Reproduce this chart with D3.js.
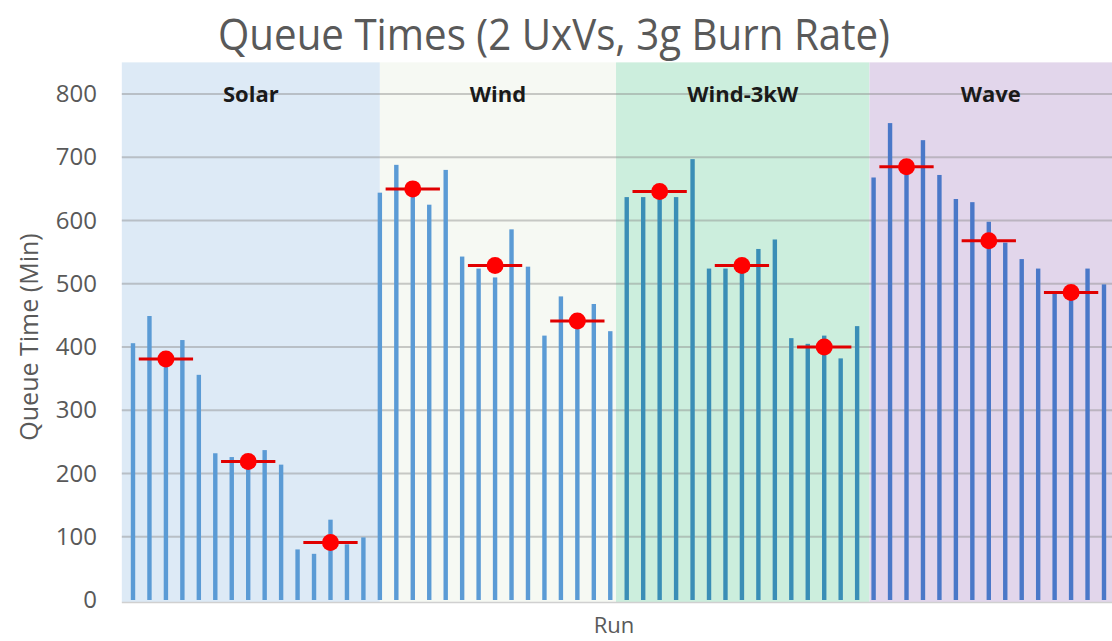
<!DOCTYPE html>
<html>
<head>
<meta charset="utf-8">
<script src="https://cdn.jsdelivr.net/npm/d3@7/dist/d3.min.js"></script>
<style>
  html, body { margin: 0; padding: 0; background: #ffffff; }
  svg { display: block; }
</style>
</head>
<body>
<svg id="chart" width="1112" height="641"></svg>
<script>
// ---------- data ----------
const groups = ["Solar", "Wind", "Wind-3kW", "Wave"];
const yTicks = [0, 100, 200, 300, 400, 500, 600, 700, 800];

// queue time per run (15 runs per source, 3 sub-sets of 5)
const solarRuns = [406, 449, 375, 411, 356, 232, 226, 215, 237, 214, 80, 73, 127, 88, 99];
const windRuns  = [644, 688, 640, 625, 680, 543, 524, 510, 586, 527, 418, 480, 435, 468, 425];
const wind3Runs = [637, 637, 637, 637, 697, 524, 524, 520, 555, 570, 414, 405, 418, 382, 433];
const waveRuns  = [668, 754, 680, 727, 672, 634, 629, 598, 565, 539, 524, 484, 485, 524, 499];

// mean queue time for each sub-set of 5 runs
const solarMeans = [381, 219, 91];
const windMeans  = [650, 529, 441];
const wind3Means = [646, 529, 400];
const waveMeans  = [685, 568, 486];

// shaded group regions, in run-index units
const groupEdges = [-0.68, 15.0, 29.35, 44.75, 59.5];

// ---------- styling ----------
const bgColors  = ["#DDEAF6", "#F6F9F3", "#CCEEDD", "#E2D6EB"];
const barColors = ["#5B9BD5", "#5B9BD5", "#3A8EB6", "#4A78C8"];

const runsByGroup  = [solarRuns, windRuns, wind3Runs, waveRuns];
const meansByGroup = [solarMeans, windMeans, wind3Means, waveMeans];

const bars = [];
runsByGroup.forEach((arr, g) => arr.forEach((v, i) => bars.push({ g, idx: g * 15 + i, v })));
const means = [];
meansByGroup.forEach((arr, g) => arr.forEach((v, k) => means.push({ g, idx: g * 15 + k * 5 + 2, v })));

const svg = d3.select("#chart");
const font = "'Open Sans', 'Noto Sans', sans-serif";

const x = d3.scaleLinear().domain([0, 59]).range([133, 1104]);
const y = d3.scaleLinear().domain([0, 800]).range([600, 94]);
const yTop = y(850);

// backgrounds
svg.append("g").selectAll("rect").data(groups).join("rect")
  .attr("x", (d, i) => x(groupEdges[i]))
  .attr("width", (d, i) => x(groupEdges[i + 1]) - x(groupEdges[i]) + (i === 3 ? 20 : 0))
  .attr("y", yTop)
  .attr("height", y(0) - yTop + 2)
  .attr("fill", (d, i) => bgColors[i]);

// gridlines
svg.append("g").selectAll("line").data(yTicks.slice(1)).join("line")
  .attr("x1", x(groupEdges[0])).attr("x2", 1112)
  .attr("y1", d => y(d)).attr("y2", d => y(d))
  .attr("stroke", "#8C8C8C").attr("stroke-opacity", 0.45).attr("stroke-width", 2);

// baseline
svg.append("line")
  .attr("x1", x(groupEdges[0])).attr("x2", 1112)
  .attr("y1", y(0) + 2.5).attr("y2", y(0) + 2.5)
  .attr("stroke", "#D0D0D0").attr("stroke-width", 1.5);

// group labels
svg.append("g").selectAll("text").data(groups).join("text")
  .attr("x", (d, i) => (x(groupEdges[i]) + Math.min(1112, x(groupEdges[i + 1]) + (i === 3 ? 20 : 0))) / 2)
  .attr("y", y(800) + 8)
  .attr("text-anchor", "middle")
  .attr("font-family", font).attr("font-weight", 700).attr("font-size", 22)
  .attr("fill", "#1A1A1A")
  .text(d => d);

// bars
const bw = 4.4;
svg.append("g").selectAll("rect").data(bars).join("rect")
  .attr("x", d => x(d.idx) - bw / 2)
  .attr("width", bw)
  .attr("y", d => y(d.v))
  .attr("height", d => y(0) - y(d.v))
  .attr("fill", d => barColors[d.g]);

// mean markers
const halfSpan = 1.65;
svg.append("g").selectAll("line").data(means).join("line")
  .attr("x1", d => x(d.idx - halfSpan)).attr("x2", d => x(d.idx + halfSpan))
  .attr("y1", d => y(d.v)).attr("y2", d => y(d.v))
  .attr("stroke", "#E00000").attr("stroke-width", 3);
svg.append("g").selectAll("circle").data(means).join("circle")
  .attr("cx", d => x(d.idx)).attr("cy", d => y(d.v))
  .attr("r", 8.5).attr("fill", "#FF0000");

// y axis
const yAxis = svg.append("g")
  .attr("transform", "translate(97,0)")
  .call(d3.axisLeft(y).tickValues(yTicks).tickSize(0).tickPadding(0));
yAxis.select(".domain").remove();
yAxis.selectAll("text")
  .attr("font-family", font).attr("font-size", 24).attr("fill", "#595959");

// axis titles
svg.append("text")
  .attr("transform", `translate(38,${(y(0) + y(800)) / 2 - 10}) rotate(-90)`)
  .attr("text-anchor", "middle")
  .attr("font-family", font).attr("font-size", 25).attr("fill", "#595959")
  .text("Queue Time (Min)");

svg.append("text")
  .attr("x", 614).attr("y", 633)
  .attr("text-anchor", "middle")
  .attr("font-family", font).attr("font-size", 22).attr("fill", "#595959")
  .text("Run");

// chart title
svg.append("text")
  .attr("x", 554).attr("y", 50)
  .attr("text-anchor", "middle")
  .attr("font-family", font).attr("font-size", 44).attr("fill", "#595959")
  .attr("textLength", 672).attr("lengthAdjust", "spacingAndGlyphs")
  .text("Queue Times (2 UxVs, 3g Burn Rate)");
</script>
</body>
</html>
